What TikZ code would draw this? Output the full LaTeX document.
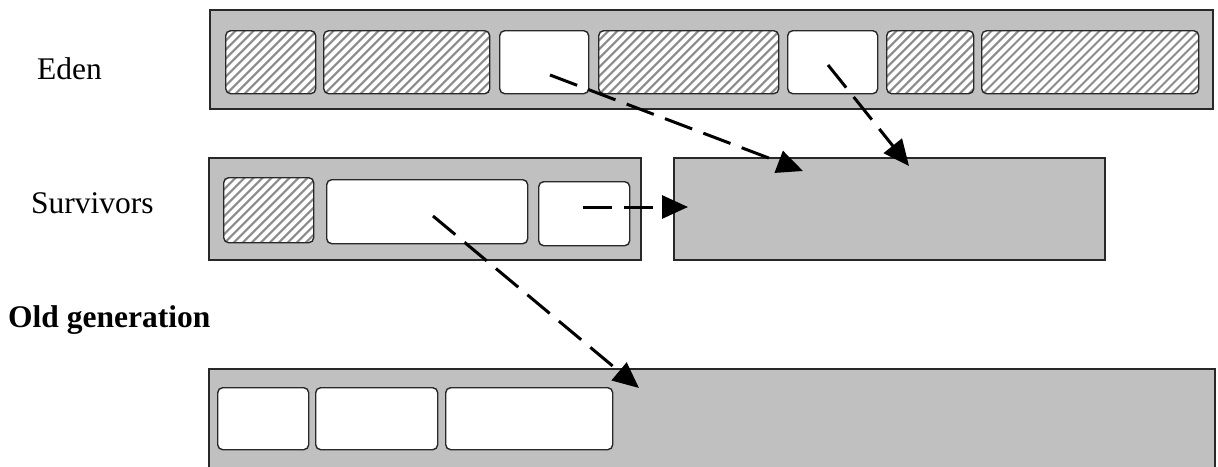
\documentclass[tikz,border=0pt]{standalone}
\usepackage{fontspec}
\setmainfont{Liberation Serif}
\usetikzlibrary{arrows.meta}
\definecolor{boxgray}{RGB}{192,192,192}
\definecolor{edgegray}{RGB}{40,40,40}
\definecolor{hatchgray}{RGB}{140,140,140}
\begin{document}
\begin{tikzpicture}[x=1pt,y=-1pt,
  area/.style={draw=edgegray,line width=1.6pt,fill=boxgray},
  wcell/.style={draw=edgegray,line width=1.4pt,fill=white,rounded corners=5pt,
    inner sep=0pt,anchor=north west},
  hcell/.style={wcell,path picture={
      \foreach \k in {-100,-91,...,230}{
        \draw[hatchgray,line width=2pt]
          ([xshift=\k pt,yshift=-2pt]path picture bounding box.south west) -- ++(104,-104);
      }}},
  flow/.style={draw=black,line width=3pt,dash pattern=on 29pt off 12pt,
    -{Triangle[length=26pt,width=23pt]}},
  lbl/.style={anchor=base west,inner sep=0pt,font=\fontsize{31.5}{36}\selectfont}
]
\clip (0,0) rectangle (1218,466);
\fill[white] (0,0) rectangle (1218,466);

% labels
\node[lbl] (leden) at (37,79) {Eden};
\node[lbl] (lsurv) at (31,213) {Survivors};
\node[lbl,font=\fontsize{31.5}{36}\selectfont\bfseries] (lold) at (8,327) {Old generation};

% Eden
\draw[area] (210,10) rectangle (1213,109);
\node[hcell,minimum width=90pt,minimum height=63pt] (e1) at (225,30) {};
\node[hcell,minimum width=166pt,minimum height=63pt] (e2) at (323,30) {};
\node[wcell,minimum width=89pt,minimum height=63pt] (e3) at (499,30) {};
\node[hcell,minimum width=180pt,minimum height=63pt] (e4) at (598,30) {};
\node[wcell,minimum width=90pt,minimum height=63pt] (e5) at (787,30) {};
\node[hcell,minimum width=87pt,minimum height=63pt] (e6) at (886,30) {};
\node[hcell,minimum width=217pt,minimum height=63pt] (e7) at (981,30) {};

% Survivors
\draw[area] (209,158) rectangle (641,260);
\node[hcell,minimum width=90pt,minimum height=65pt] (s1) at (223,177) {};
\node[wcell,minimum width=201pt,minimum height=64pt] (s2) at (326,179) {};
\node[wcell,minimum width=91pt,minimum height=64pt] (s3) at (538,181) {};
\draw[area] (674,158) rectangle (1105,260);

% Old generation
\draw[area] (209,369) rectangle (1215,480);
\node[wcell,minimum width=91pt,minimum height=62pt] (o1) at (217,387) {};
\node[wcell,minimum width=122pt,minimum height=62pt] (o2) at (315,387) {};
\node[wcell,minimum width=167pt,minimum height=62pt] (o3) at (445,387) {};

% connector end points
\coordinate (a1s) at (550,75);
\coordinate (a1t) at (803,171);
\coordinate (a2s) at (828,65);
\coordinate (a2t) at (909,166);
\coordinate (a3s) at (583,207);
\coordinate (a3t) at (688,207);
\coordinate (a4s) at (433,216);
\coordinate (a4t) at (639,388);

\draw[flow] (a1s) -- (a1t);
\draw[flow] (a2s) -- (a2t);
\draw[flow] (a3s) -- (a3t);
\draw[flow] (a4s) -- (a4t);
\end{tikzpicture}
\end{document}
